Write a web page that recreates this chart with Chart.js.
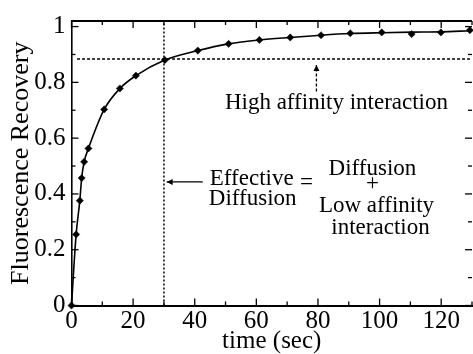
<!DOCTYPE html>
<html>
<head>
<meta charset="utf-8">
<script src="https://cdn.jsdelivr.net/npm/chart.js@4/dist/chart.umd.min.js"></script>
<style>
html,body{margin:0;padding:0;background:#fff;}
#wrap{width:473px;height:354px;position:relative;}
</style>
</head>
<body>
<div id="wrap"><canvas id="c" width="473" height="354"></canvas></div>
<script>
// ---- data ----
const times      = [0, 1.5, 2.7, 3.3, 4.1, 5.5, 10.6, 15.7, 20.9, 30.3, 41, 51, 61, 71, 81, 90.5, 100.7, 110.4, 119.9, 129.3];
const recovery   = [0, 0.255, 0.376, 0.457, 0.515, 0.563, 0.703, 0.778, 0.824, 0.880, 0.914, 0.938, 0.952, 0.961, 0.969, 0.976, 0.979, 0.973, 0.979, 0.987];
const fitCurve   = [0, 0.255, 0.376, 0.457, 0.515, 0.563, 0.703, 0.778, 0.824, 0.880, 0.914, 0.938, 0.952, 0.961, 0.969, 0.975, 0.978, 0.980, 0.981, 0.985];
const xTickValues = [0, 10, 20, 30, 40, 50, 60, 70, 80, 90, 100, 110, 120, 130];
const xTickLabels = ['0', '', '20', '', '40', '', '60', '', '80', '', '100', '', '120', ''];
const yTickValues = [0, 0.1, 0.2, 0.3, 0.4, 0.5, 0.6, 0.7, 0.8, 0.9, 1.0];
const yTickLabels = ['0', '', '0.2', '', '0.4', '', '0.6', '', '0.8', '', '1'];
const effectiveTime = 30;          // vertical dotted line
const highAffinityLevel = 0.884;   // horizontal dashed line
const xTitle = 'time (sec)';
const yTitle = 'Fluorescence Recovery';

const SERIF = '"Liberation Serif", "Times New Roman", serif';

const annotations = [
  {text: 'High affinity interaction', x: 86.0, y: 0.725},
  {text: 'Effective', x: 58.5, y: 0.452},
  {text: 'Diffusion', x: 58.8, y: 0.381},
  {text: '=', x: 76.3, y: 0.438},
  {text: 'Diffusion', x: 97.7, y: 0.491},
  {text: '+', x: 97.7, y: 0.434},
  {text: 'Low affinity', x: 99.0, y: 0.357},
  {text: 'interaction', x: 100.3, y: 0.279}
];
const arrows = [
  {x1: 42.6, y1: 0.443, x2: 30.9, y2: 0.443, dash: []},
  {x1: 79.5, y1: 0.767, x2: 79.5, y2: 0.862, dash: [3, 2]}
];

const framePlugin = {
  id: 'frame',
  afterDatasetsDraw(chart) {
    const ctx = chart.ctx, a = chart.chartArea;
    const xs = chart.scales.x, ys = chart.scales.y;
    ctx.save();
    ctx.strokeStyle = '#000';
    // top frame
    ctx.lineWidth = 2;
    ctx.beginPath(); ctx.moveTo(a.left, a.top); ctx.lineTo(a.right, a.top); ctx.stroke();
    ctx.lineWidth = 1.3;
    xTickValues.forEach((v, i) => {
      const px = xs.getPixelForValue(v);
      const len = xTickLabels[i] !== '' ? 7 : 4;
      ctx.beginPath(); ctx.moveTo(px, a.bottom); ctx.lineTo(px, a.bottom - len); ctx.stroke();
      ctx.beginPath(); ctx.moveTo(px, a.top); ctx.lineTo(px, a.top + len); ctx.stroke();
    });
    yTickValues.forEach((v, i) => {
      const py = ys.getPixelForValue(v);
      const len = yTickLabels[i] !== '' ? 7 : 4;
      ctx.beginPath(); ctx.moveTo(a.left, py); ctx.lineTo(a.left + len, py); ctx.stroke();
      ctx.beginPath(); ctx.moveTo(a.right, py); ctx.lineTo(a.right - len, py); ctx.stroke();
    });
    // annotations
    ctx.fillStyle = '#000';
    ctx.font = '23px ' + SERIF;
    ctx.textAlign = 'center';
    ctx.textBaseline = 'middle';
    annotations.forEach(t => {
      ctx.fillText(t.text, xs.getPixelForValue(t.x), ys.getPixelForValue(t.y));
    });
    // arrows
    arrows.forEach(ar => {
      const x1 = xs.getPixelForValue(ar.x1), y1 = ys.getPixelForValue(ar.y1);
      const x2 = xs.getPixelForValue(ar.x2), y2 = ys.getPixelForValue(ar.y2);
      ctx.lineWidth = 1.3;
      ctx.setLineDash(ar.dash);
      ctx.beginPath(); ctx.moveTo(x1, y1); ctx.lineTo(x2, y2); ctx.stroke();
      ctx.setLineDash([]);
      const ang = Math.atan2(y2 - y1, x2 - x1);
      const hl = 6, hw = 3;
      ctx.beginPath();
      ctx.moveTo(x2, y2);
      ctx.lineTo(x2 - hl * Math.cos(ang) + hw * Math.sin(ang), y2 - hl * Math.sin(ang) - hw * Math.cos(ang));
      ctx.lineTo(x2 - hl * Math.cos(ang) - hw * Math.sin(ang), y2 - hl * Math.sin(ang) + hw * Math.cos(ang));
      ctx.closePath(); ctx.fill();
    });
    ctx.restore();
  }
};

new Chart(document.getElementById('c'), {
  type: 'line',
  data: {
    datasets: [
      {
        data: [{x: effectiveTime, y: 0}, {x: effectiveTime, y: 1.02}],
        borderColor: '#000', borderWidth: 1.5, borderDash: [2, 2],
        pointRadius: 0, tension: 0, order: 3
      },
      {
        data: [{x: 1.8, y: highAffinityLevel}, {x: 130, y: highAffinityLevel}],
        borderColor: '#000', borderWidth: 1.5, borderDash: [3, 2],
        pointRadius: 0, tension: 0, order: 3
      },
      {
        data: times.map((t, i) => ({x: t, y: fitCurve[i]})),
        borderColor: '#000', borderWidth: 1.6,
        pointRadius: 0, cubicInterpolationMode: 'monotone', order: 2
      },
      {
        data: times.map((t, i) => ({x: t, y: recovery[i]})),
        showLine: false, pointStyle: 'rectRot', pointRadius: 3.6,
        backgroundColor: '#000', borderColor: '#000', borderWidth: 0.5, order: 1
      }
    ]
  },
  options: {
    responsive: false,
    animation: false,
    events: [],
    layout: {autoPadding: false, padding: {top: 16, right: 0, left: 0, bottom: 0}},
    plugins: {legend: {display: false}, tooltip: {enabled: false}},
    elements: {line: {fill: false}},
    clip: false,
    scales: {
      x: {
        type: 'linear', min: 0, max: 130,
        afterBuildTicks: s => { s.ticks = xTickValues.map(v => ({value: v})); },
        afterFit: s => { s.height = 48.5; },
        grid: {display: false, drawTicks: false},
        border: {display: true, color: '#000', width: 2},
        ticks: {
          autoSkip: false, maxRotation: 0, padding: 1, color: '#000',
          font: {family: SERIF, size: 25, lineHeight: 1.2},
          callback: (v) => { const i = xTickValues.indexOf(v); return i >= 0 ? xTickLabels[i] : ''; }
        },
        title: {display: true, text: xTitle, color: '#000',
          font: {family: SERIF, size: 25, lineHeight: 1.04}, padding: {top: 0, bottom: 0}}
      },
      y: {
        type: 'linear', min: 0, max: 1.02,
        afterBuildTicks: s => { s.ticks = yTickValues.map(v => ({value: v})); },
        afterFit: s => { s.width = 71.5; },
        grid: {display: false, drawTicks: false},
        border: {display: true, color: '#000', width: 1.6},
        ticks: {
          autoSkip: false, padding: 6, color: '#000',
          font: {family: SERIF, size: 25},
          callback: (v) => { const i = yTickValues.findIndex(t => Math.abs(t - v) < 1e-9); return i >= 0 ? yTickLabels[i] : ''; }
        },
        title: {display: true, text: yTitle, color: '#000',
          font: {family: SERIF, size: 26, lineHeight: 1.2}, padding: {top: 6, bottom: 0}}
      }
    }
  },
  plugins: [framePlugin]
});
</script>
</body>
</html>
